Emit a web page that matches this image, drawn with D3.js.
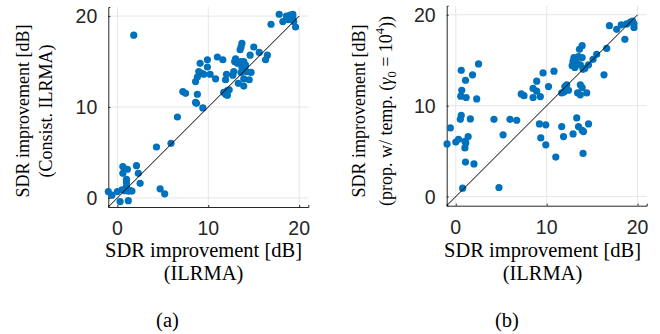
<!DOCTYPE html>
<html>
<head>
<meta charset="utf-8">
<script src="https://cdn.jsdelivr.net/npm/d3@7"></script>
<style>
  html, body { margin: 0; padding: 0; background: #fff; }
  svg { display: block; }
</style>
</head>
<body>
<svg id="chart" width="660" height="334"></svg>
<script>
// panel (a): ILRMA vs consistent ILRMA
const ilrmaA = [1.8, 17.8, 16.9, 18.2, 18.6, 19.0, 19.3, 18.8, 19.4, 19.6, 19.3,
  13.7, 13.6, 13.5, 15.0, 15.6, 16.5, 16.3, 14.6, 13.0, 12.9, 13.2, 13.6, 13.9, 14.1, 13.7,
  11.0, 11.6, 9.9, 9.9, 9.1, 8.95, 9.3, 8.8, 8.6, 9.5, 10.2, 10.8, 12.0, 11.9, 12.8, 12.7,
  13.3, 13.9, 13.9, 14.5, 14.7, 13.6, 14.2, 13.9, 12.1, 11.7, 12.1, 12.3, 11.9,
  7.2, 7.5, 8.8, 8.6, 8.7, 9.4, 6.6, 4.3, 5.9,
  0.6, 2.1, 0.6, 1.1, 2.3, 1.0, 1.0, 2.5, 1.0, 0.5, 0.85, 1.2, 1.6, 0.0, -1.0, -0.6,
  0.3, 1.2, 4.7, 5.2, 1.4];
const consistA = [17.9, 20.2, 19.1, 19.4, 20.0, 20.1, 19.9, 19.6, 19.4, 18.8, 20.2,
  17.0, 16.6, 16.3, 16.6, 16.0, 15.7, 15.2, 15.7, 15.3, 15.0, 14.8, 15.0, 15.0, 14.6, 14.4,
  15.5, 15.2, 15.2, 14.4, 14.8, 13.9, 13.7, 13.3, 12.8, 13.6, 13.6, 13.1, 13.6, 13.0, 13.9, 13.5,
  12.6, 12.3, 13.1, 13.0, 13.8, 13.8, 13.9, 14.1, 11.8, 11.6, 11.3, 11.9, 11.4,
  11.7, 11.5, 11.4, 10.5, 10.4, 9.9, 8.9, 5.6, 6.0,
  3.45, 3.55, 2.7, 3.15, 2.7, 2.05, 1.7, 1.6, 1.25, 0.9, 0.8, 0.75, 0.75, 0.7, 0.7, 0.3,
  -0.4, -0.3, 1.0, 0.45, 0.8];

// panel (b): ILRMA vs proposed with temperature
const ilrmaB = [-0.96, -0.6, 0.0, 0.3, 0.6, 1.07, 1.84, 2.5, 0.66, 0.55, 1.14, 2.3,
  0.6, 0.5, 1.6, 1.36, 1.0, 1.1, 1.0, 1.07, 2.0, 0.75,
  4.2, 4.75, 5.2, 5.96, 6.7, 7.2, 7.5, 8.5, 8.9, 8.5, 8.9, 9.3, 9.6, 10.2, 10.8,
  9.2, 9.9, 9.35, 9.9, 11.0, 11.65, 11.85, 12.9, 13.3, 13.5, 13.9, 14.05, 14.6, 14.0, 16.3,
  11.65, 12.0, 12.2, 12.4, 11.9, 13.4, 13.7, 13.9, 13.7, 14.4,
  12.8, 12.9, 13.0, 13.3, 13.5, 13.9, 13.1, 13.7, 14.0, 14.2, 14.6, 13.9, 13.6,
  15.1, 15.5, 16.6, 16.9, 17.7, 18.2, 18.6, 18.8, 19.2, 19.45, 19.6, 19.6];
const propB = [5.8, 7.55, 6.0, 6.3, 13.9, 12.8, 13.4, 14.6, 11.7, 11.05, 10.9, 10.75,
  8.95, 8.5, 8.55, 6.6, 6.08, 5.9, 5.35, 3.8, 3.6, 0.93,
  8.5, 1.0, 6.8, 8.5, 8.4, 11.3, 11.1, 11.9, 12.7, 10.9, 11.6, 11.0, 13.6, 12.1, 13.8,
  8.0, 7.9, 6.45, 5.7, 4.35, 7.7, 6.6, 6.9, 8.65, 7.7, 7.3, 7.15, 8.0, 4.75, 13.4,
  11.4, 12.1, 12.3, 11.7, 11.5, 11.4, 11.2, 12.0, 12.3, 11.4,
  14.4, 14.9, 15.3, 14.7, 15.4, 15.3, 14.2, 14.5, 14.0, 14.1, 14.5, 16.6, 16.2,
  15.1, 15.65, 16.3, 18.8, 18.4, 18.9, 17.3, 19.0, 19.2, 19.3, 19.0, 18.6];

const tickValues = [0, 10, 20];
const axisDomain = [-1, 21];
const diagonal = [-1, 20];

const MARKER_COLOR = "#0072BD";
const GRID_COLOR = "#e6e6e6";
const AXIS_COLOR = "#262626";
const SANS = "'Liberation Sans', Arial, Helvetica, sans-serif";
const SERIF = "'Liberation Serif', 'Times New Roman', Times, serif";

const svg = d3.select("#chart");

function drawPanel(cfg) {
  const x = d3.scaleLinear().domain(axisDomain).range([cfg.left, cfg.left + cfg.size]);
  const y = d3.scaleLinear().domain(axisDomain).range([cfg.top + cfg.size, cfg.top]);
  const g = svg.append("g");

  // grid
  g.append("g")
    .selectAll("line.vgrid")
    .data(tickValues)
    .join("line")
    .attr("x1", (d) => x(d)).attr("x2", (d) => x(d))
    .attr("y1", y(axisDomain[0])).attr("y2", y(axisDomain[1]))
    .attr("stroke", GRID_COLOR).attr("stroke-width", 1);
  g.append("g")
    .selectAll("line.hgrid")
    .data(tickValues)
    .join("line")
    .attr("y1", (d) => y(d)).attr("y2", (d) => y(d))
    .attr("x1", x(axisDomain[0])).attr("x2", x(axisDomain[1]))
    .attr("stroke", GRID_COLOR).attr("stroke-width", 1);

  // axes (inward ticks, box off)
  const xAxis = d3.axisTop(x).tickValues(tickValues).tickSize(2).tickFormat("");
  const yAxis = d3.axisRight(y).tickValues(tickValues).tickSize(2).tickFormat("");
  g.append("g")
    .attr("transform", `translate(0,${y(axisDomain[0])})`)
    .call(xAxis)
    .call((s) => s.selectAll("path, line").attr("stroke", AXIS_COLOR));
  g.append("g")
    .attr("transform", `translate(${x(axisDomain[0])},0)`)
    .call(yAxis)
    .call((s) => s.selectAll("path, line").attr("stroke", AXIS_COLOR));

  // tick labels
  g.append("g")
    .selectAll("text")
    .data(tickValues)
    .join("text")
    .attr("x", (d) => x(d))
    .attr("y", y(axisDomain[0]) + 28)
    .attr("text-anchor", "middle")
    .attr("font-family", SANS)
    .attr("font-size", "19.5px")
    .attr("fill", AXIS_COLOR)
    .text((d) => d);
  g.append("g")
    .selectAll("text")
    .data(tickValues)
    .join("text")
    .attr("x", x(axisDomain[0]) - 11)
    .attr("y", (d) => y(d) + 7)
    .attr("text-anchor", "end")
    .attr("font-family", SANS)
    .attr("font-size", "19.5px")
    .attr("fill", AXIS_COLOR)
    .text((d) => d);

  // points
  g.append("g")
    .selectAll("circle")
    .data(cfg.xs.map((v, i) => [v, cfg.ys[i]]))
    .join("circle")
    .attr("cx", (d) => x(d[0]))
    .attr("cy", (d) => y(d[1]))
    .attr("r", 3.6)
    .attr("fill", MARKER_COLOR);

  // identity line
  g.append("line")
    .attr("x1", x(diagonal[0])).attr("y1", y(diagonal[0]))
    .attr("x2", x(diagonal[1])).attr("y2", y(diagonal[1]))
    .attr("stroke", "#000").attr("stroke-width", 1);

  // x label
  const xl = g.append("text")
    .attr("font-family", SERIF)
    .attr("font-size", "20.5px")
    .attr("fill", "#000")
    .attr("text-anchor", "middle");
  xl.append("tspan").attr("x", cfg.xLabelX).attr("y", 257).text("SDR improvement [dB]");
  xl.append("tspan").attr("x", cfg.xLabelX).attr("y", 280).text("(ILRMA)");

  // y label
  const yl = g.append("text")
    .attr("font-family", SERIF)
    .attr("font-size", "18px")
    .attr("fill", "#000")
    .attr("text-anchor", "middle")
    .attr("transform", `rotate(-90)`);
  yl.append("tspan").attr("x", -111).attr("y", cfg.yLabel1).text("SDR improvement [dB]");
  cfg.yLine2(yl.append("tspan").attr("x", -111).attr("y", cfg.yLabel2));

  // panel caption
  g.append("text")
    .attr("x", cfg.captionX)
    .attr("y", 327)
    .attr("text-anchor", "middle")
    .attr("font-family", SERIF)
    .attr("font-size", "20.5px")
    .attr("fill", "#000")
    .text(cfg.caption);
}

drawPanel({
  xs: ilrmaA, ys: consistA,
  left: 108.3, top: 7, size: 200,
  xLabelX: 203.5, captionX: 167.5, caption: "(a)",
  yLabel1: 28.5, yLabel2: 51.5,
  yLine2: (t) => t.text("(Consist. ILRMA)"),
});

drawPanel({
  xs: ilrmaB, ys: propB,
  left: 446.7, top: 5.7, size: 200,
  xLabelX: 542.5, captionX: 507, caption: "(b)",
  yLabel1: 365, yLabel2: 392,
  yLine2: (t) => {
    t.text("(prop. w/ temp. (");
    const parent = d3.select(t.node().parentNode);
    parent.append("tspan").attr("font-style", "italic").text("γ");
    parent.append("tspan").attr("font-size", "12.5px").attr("dy", 4).text("0");
    parent.append("tspan").attr("dy", -4).text(" = 10");
    parent.append("tspan").attr("font-size", "12.5px").attr("dy", -8).text("4");
    parent.append("tspan").attr("dy", 8).text("))");
  },
});
</script>
</body>
</html>
